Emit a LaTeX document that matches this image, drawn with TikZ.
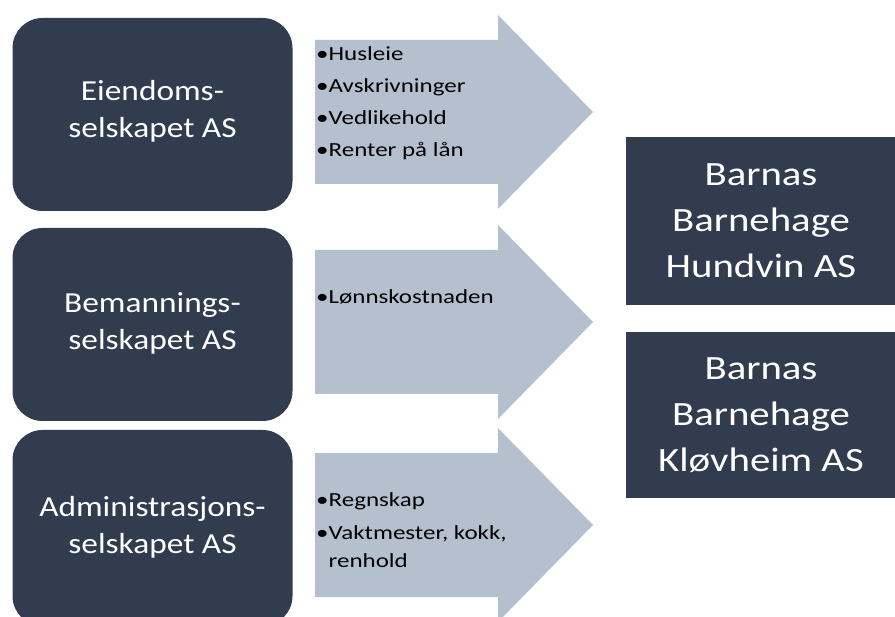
\documentclass[tikz,border=0pt]{standalone}
\usepackage{fontspec}
\setmainfont{Carlito}
\newfontfamily\firmfont{Carlito}[FakeStretch=1.15]
\newfontfamily\kidfont{Carlito}[FakeStretch=1.2]
\newfontfamily\costfont{Carlito}[FakeStretch=1.25]
\definecolor{navy}{HTML}{323C4F}
\definecolor{pale}{HTML}{B5C0CF}

\begin{document}
\begin{tikzpicture}[x=1pt, y=-1pt,
    firm/.style={fill=navy, rounded corners=30pt, text=white, align=center, inner sep=0pt,
      minimum width=280pt, text depth=6pt, font=\firmfont\fontsize{29}{37}\selectfont},
    kid/.style={fill=navy, text=white, align=center, inner sep=0pt,
      minimum width=270pt, font=\kidfont\fontsize{34}{46}\selectfont},
    cost/.style={anchor=west, align=left, inner sep=0pt, text=black,
      font=\costfont\fontsize{20}{28}\selectfont}]
    \useasboundingbox (0,0) rectangle (895,617);
    \begin{scope}
    \clip (0,0) rectangle (895,617);
    % arrows
    \foreach \y in {112,322,525}
        \fill[pale] (315,\y-72) -- (498,\y-72) -- (498,\y-97) -- (593,\y)
            -- (498,\y+97) -- (498,\y+72) -- (315,\y+72) -- cycle;
    % companies
    \node[firm, minimum height=193pt, text depth=12pt] (eiendom) at (152.5,114.5) {Eiendoms-\\selskapet AS};
    \node[firm, minimum height=193pt] (bemann) at (152.5,324.5) {Bemannings-\\selskapet AS};
    \node[firm, minimum height=196pt] (admin) at (152.5,528) {Administrasjons-\\selskapet AS};
    \node[kid, minimum height=168pt] (hundvin) at (761,221) {Barnas\\Barnehage\\Hundvin AS};
    \node[kid, minimum height=166pt] (klovheim) at (761,415) {Barnas\\Barnehage\\Kløvheim AS};
    \end{scope}
    % costs
    \node[cost] (husleie) at (316,103.5) {•Husleie\\[4pt]•Avskrivninger\\[4pt]•Vedlikehold\\[4pt]•Renter på lån};
    \node[cost] (lonn) at (316,297) {•Lønnskostnaden};
    \node[cost] (regnskap) at (316,530) {•Regnskap\\[5pt]•Vaktmester, kokk,\\\phantom{•}renhold};
\end{tikzpicture}
\end{document}
